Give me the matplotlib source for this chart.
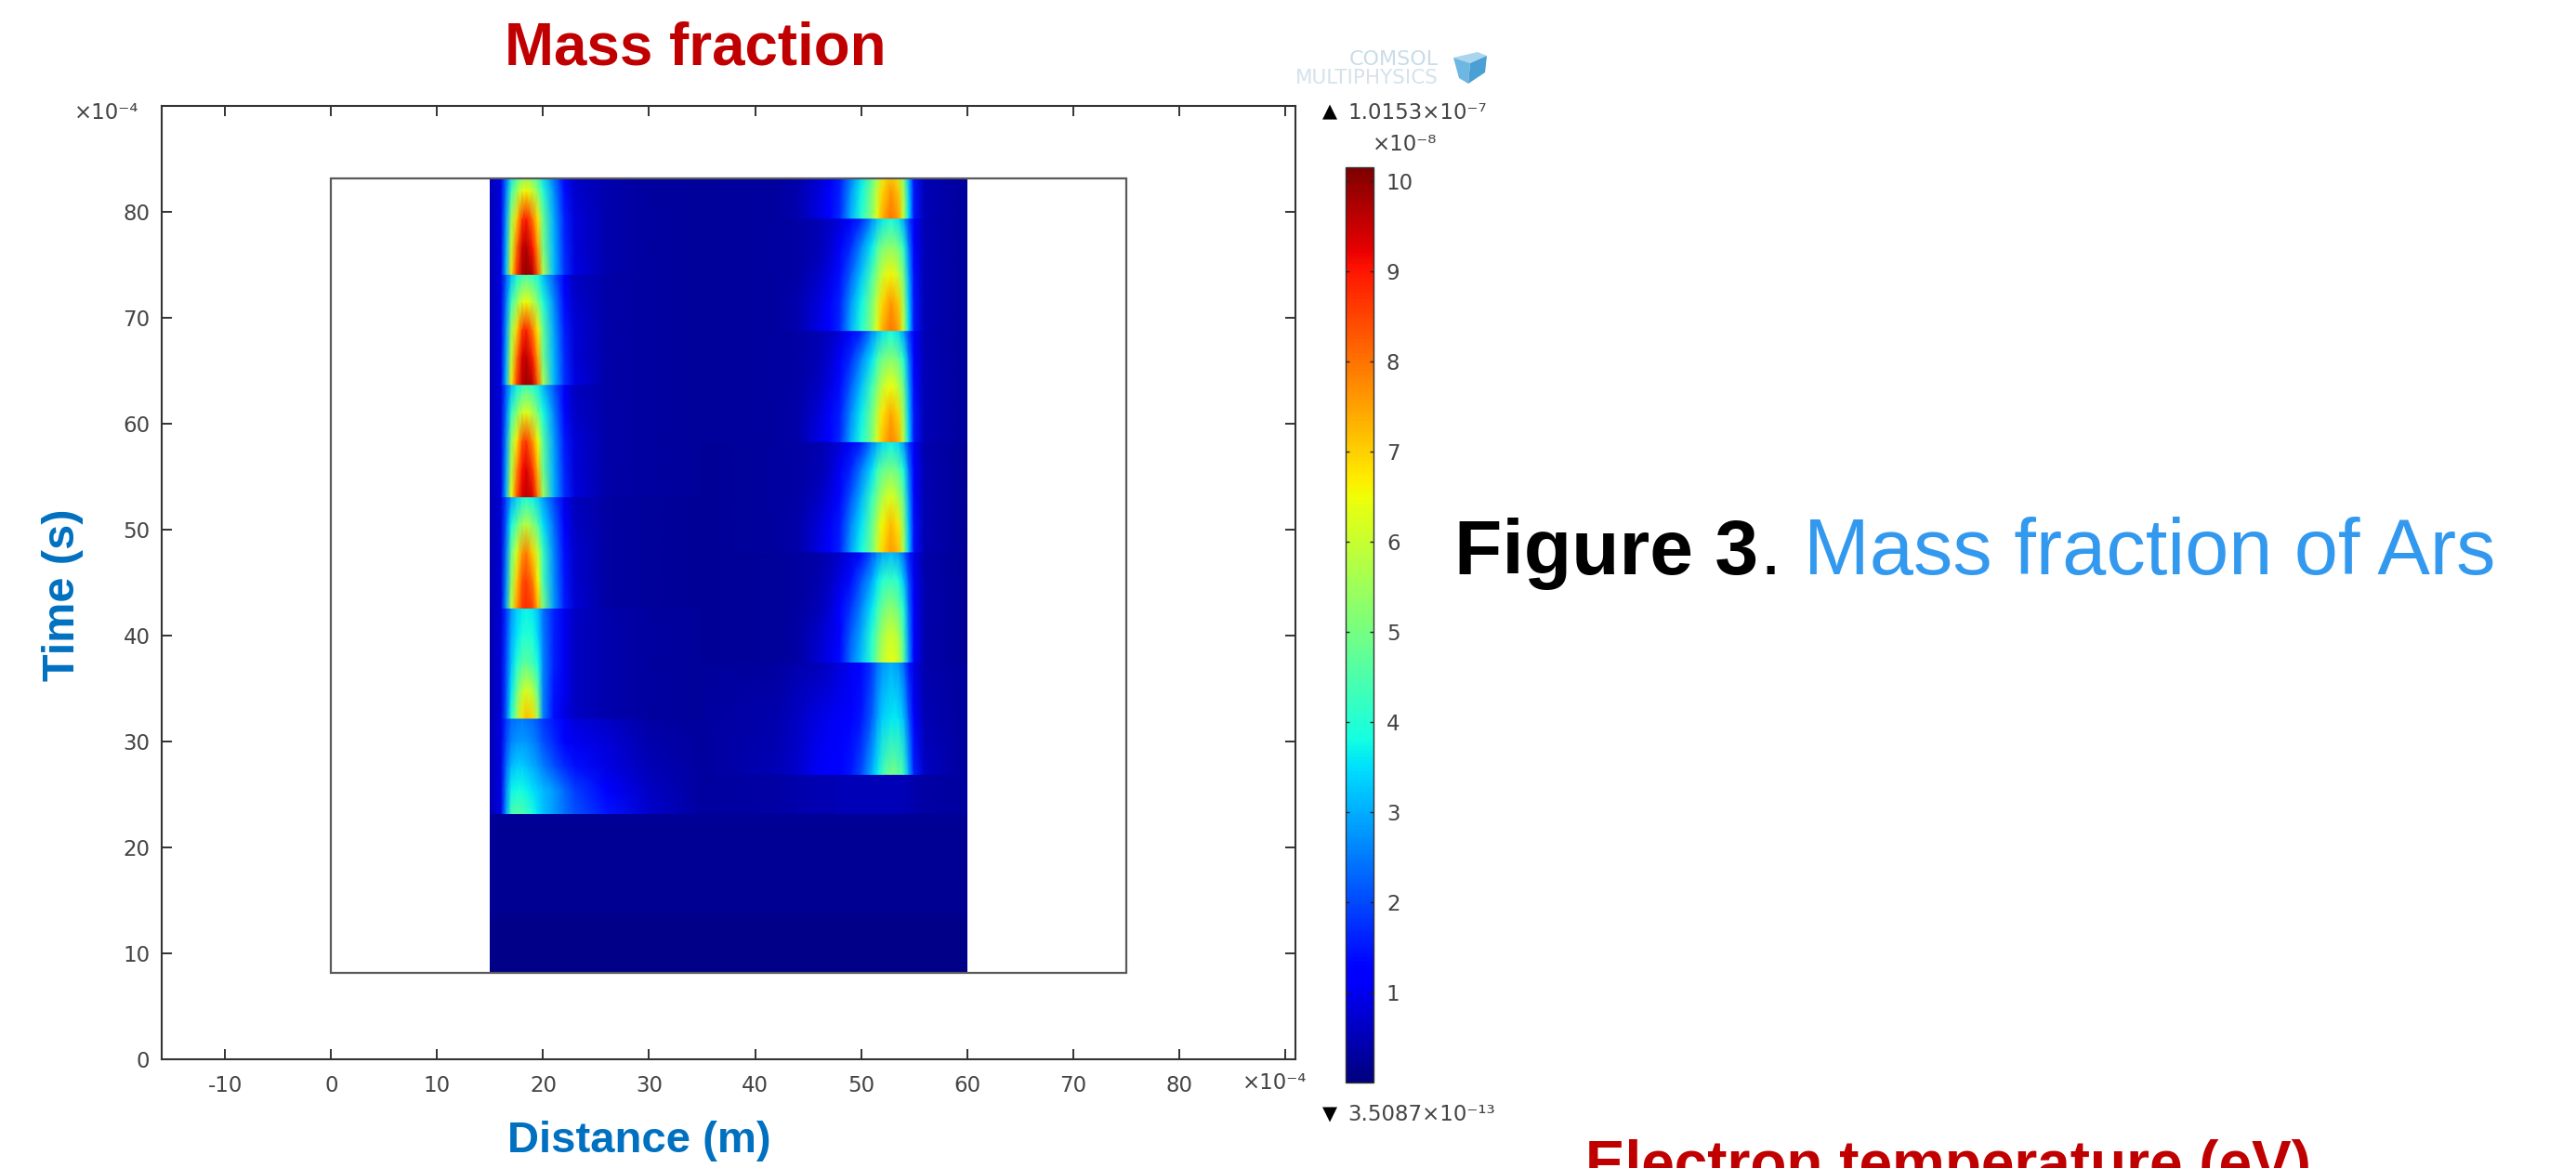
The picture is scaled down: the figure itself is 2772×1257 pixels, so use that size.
import numpy as np
import matplotlib
matplotlib.use("Agg")
import matplotlib.pyplot as plt
from matplotlib.cm import ScalarMappable
from matplotlib.colors import Normalize
from matplotlib.patches import Polygon, Rectangle

W, H = 2772, 1257

# ticks and values (mass fraction in units of 1e-8)
x_ticks = [-10, 0, 10, 20, 30, 40, 50, 60, 70, 80, 90]
y_ticks = [0, 10, 20, 30, 40, 50, 60, 70, 80, 90]
cb_ticks = [1, 2, 3, 4, 5, 6, 7, 8, 9, 10]
val_min = 0.0
val_max = 10.15

domain_x = [0, 75]
domain_t = [8.2, 83.2]
field_x = [15, 60]

# left stream
left_x = [15, 16, 16.5, 17, 17.5, 18, 18.4, 19, 19.5, 20, 21, 22, 23, 26, 30, 35]
left_breaks = [42.6, 53.1, 63.7, 74.1]
left_ends = [53.1, 63.7, 74.1, 84.6]
left_peaks = [0.88, 0.96, 0.99, 1.0]
hot_frac = [0, 0.25, 0.5, 0.75, 1]
left_hot = [
    [0.5, 0.9, 3.2, 6.8, 8.6, 9.7, 10.0, 9.7, 8.3, 5.8, 3.2, 1.8, 0.9, 0.4, 0.3, 0.25],
    [0.5, 0.9, 3.0, 6.0, 8.0, 9.4, 9.7, 9.0, 7.5, 5.0, 3.1, 1.7, 0.8, 0.4, 0.3, 0.25],
    [0.5, 0.9, 2.8, 5.5, 7.0, 8.6, 9.0, 8.0, 6.8, 4.8, 3.0, 1.6, 0.8, 0.4, 0.3, 0.25],
    [0.5, 0.9, 2.5, 4.3, 5.4, 6.3, 6.6, 6.0, 5.2, 4.0, 2.7, 1.4, 0.7, 0.4, 0.3, 0.25],
    [0.5, 0.9, 2.2, 3.2, 3.8, 4.2, 4.4, 4.2, 3.8, 3.2, 2.2, 1.1, 0.6, 0.4, 0.3, 0.25],
]
left_mid = [
    [0.4, 0.8, 2.2, 4.0, 5.5, 6.8, 7.2, 6.9, 5.5, 2.6, 1.4, 0.9, 0.6, 0.4, 0.3, 0.25],
    [0.4, 0.8, 2.1, 3.6, 4.8, 5.8, 6.2, 5.8, 4.7, 2.6, 1.5, 1.0, 0.6, 0.4, 0.3, 0.25],
    [0.4, 0.8, 2.0, 3.2, 4.0, 4.5, 4.7, 4.4, 3.8, 2.6, 1.6, 1.0, 0.6, 0.4, 0.3, 0.25],
    [0.4, 0.8, 1.9, 3.0, 3.5, 3.9, 4.0, 3.9, 3.4, 2.5, 1.6, 1.0, 0.6, 0.4, 0.3, 0.25],
    [0.4, 0.8, 1.8, 2.8, 3.3, 3.6, 3.7, 3.6, 3.2, 2.4, 1.6, 1.0, 0.6, 0.4, 0.3, 0.25],
]
left_low = [
    [0.5, 0.9, 2.8, 4.4, 4.6, 4.5, 4.3, 3.9, 3.5, 3.2, 2.8, 2.4, 2.1, 1.5, 0.7, 0.3],
    [0.5, 0.9, 2.6, 3.7, 3.8, 3.8, 3.7, 3.5, 3.3, 3.1, 2.8, 2.3, 1.9, 1.2, 0.6, 0.3],
    [0.5, 0.9, 2.3, 3.1, 3.3, 3.3, 3.2, 3.0, 2.8, 2.5, 2.1, 1.7, 1.4, 0.9, 0.5, 0.3],
    [0.5, 0.9, 2.0, 2.6, 2.8, 2.8, 2.8, 2.6, 2.4, 2.1, 1.7, 1.3, 1.0, 0.8, 0.4, 0.3],
    [0.5, 0.9, 1.8, 2.3, 2.4, 2.5, 2.4, 2.3, 2.1, 1.8, 1.5, 1.1, 0.8, 0.6, 0.35, 0.25],
]

# right stream
right_x = [35, 42, 44, 46, 47, 48, 49, 50, 51, 51.5, 52, 52.8, 53.5, 54, 54.5, 55, 56, 60]
right_breaks = [37.5, 47.9, 58.3, 68.8, 79.4]
right_ends = [47.9, 58.3, 68.8, 79.4, 89.9]
right_peaks = [0.8, 0.95, 0.98, 1.0, 1.0]
right_hot = [
    [0.25, 0.3, 0.4, 0.9, 1.2, 1.7, 3.0, 4.0, 5.2, 6.3, 7.3, 8.0, 7.6, 6.0, 3.5, 1.5, 0.5, 0.25],
    [0.25, 0.3, 0.4, 0.8, 1.1, 1.6, 2.7, 3.7, 5.0, 5.9, 6.9, 7.6, 7.1, 5.6, 3.3, 1.5, 0.5, 0.25],
    [0.25, 0.3, 0.35, 0.6, 0.9, 1.4, 2.2, 3.2, 4.4, 5.2, 6.0, 6.6, 6.0, 5.0, 3.0, 1.4, 0.5, 0.25],
    [0.25, 0.3, 0.35, 0.5, 0.7, 1.1, 1.7, 2.6, 3.6, 4.4, 5.0, 5.3, 5.0, 4.1, 2.6, 1.3, 0.5, 0.25],
    [0.25, 0.3, 0.35, 0.45, 0.6, 0.8, 1.1, 1.6, 2.6, 3.1, 3.6, 3.9, 3.6, 2.9, 1.9, 1.1, 0.45, 0.25],
]
low_frac = [0, 0.5, 1]
right_low = [
    [0.3, 0.5, 0.7, 1.1, 1.2, 1.3, 1.5, 2.0, 3.0, 3.6, 4.3, 5.0, 4.8, 4.4, 3.0, 1.6, 0.6, 0.25],
    [0.3, 0.4, 0.6, 0.9, 1.0, 1.1, 1.2, 1.5, 2.2, 2.8, 3.3, 3.6, 3.6, 3.2, 2.2, 1.2, 0.5, 0.25],
    [0.25, 0.3, 0.4, 0.5, 0.6, 0.8, 1.0, 1.3, 1.8, 2.3, 2.7, 3.0, 2.8, 2.3, 1.5, 0.9, 0.4, 0.25],
]
right_gap = [
    [0.3, 0.35, 0.4, 0.45, 0.45, 0.5, 0.5, 0.5, 0.5, 0.5, 0.5, 0.5, 0.5, 0.5, 0.45, 0.4, 0.35, 0.3],
    [0.3, 0.35, 0.4, 0.45, 0.45, 0.5, 0.5, 0.5, 0.5, 0.5, 0.5, 0.5, 0.5, 0.5, 0.45, 0.4, 0.35, 0.3],
]

# before the first pulse
base_t = [8.2, 13, 14, 23.2]
base_x = [15, 60]
base_vals = [[0.08, 0.08], [0.08, 0.08], [0.16, 0.16], [0.2, 0.2]]


def px(x, y):
    return x / W, 1 - y / H


fig = plt.figure(figsize=(W / 100, H / 100), dpi=100, facecolor="white")
ax = fig.add_axes([174 / W, 1 - 1140 / H, 1220 / W, 1026 / H])
ax.set_xlim(-16, 91)
ax.set_ylim(0, 90)

norm = Normalize(val_min, val_max)
clip = Rectangle((field_x[0], domain_t[0]), field_x[1] - field_x[0], domain_t[1] - domain_t[0],
                 transform=ax.transData)


def draw_block(xs, t0, t1, fracs, table, scale=1.0):
    ts = [t0 + f * (t1 - t0) for f in fracs]
    X, Y = np.meshgrid(xs, ts)
    m = ax.pcolormesh(X, Y, np.array(table) * scale, shading="gouraud", cmap="jet", norm=norm, zorder=2)
    m.set_clip_path(clip)


# dark background under the field
ax.add_patch(Rectangle((field_x[0], domain_t[0]), field_x[1] - field_x[0], domain_t[1] - domain_t[0],
                       facecolor="#000098", edgecolor="none", zorder=1))
draw_block(base_x, base_t[0], base_t[-1], [(t - base_t[0]) / (base_t[-1] - base_t[0]) for t in base_t], base_vals)

# left stream
draw_block(left_x, 23.2, 32.2, hot_frac, left_low)
draw_block(left_x, 32.2, 42.6, hot_frac, left_mid)
for t0, t1, p in zip(left_breaks, left_ends, left_peaks):
    draw_block(left_x, t0, t1, hot_frac, left_hot, p)

# right stream
draw_block(right_x, 23.2, 26.9, [0, 1], right_gap)
draw_block(right_x, 26.9, 37.5, low_frac, right_low)
for t0, t1, p in zip(right_breaks, right_ends, right_peaks):
    draw_block(right_x, t0, t1, hot_frac, right_hot, p)

# domain outline
ax.add_patch(Rectangle((domain_x[0], domain_t[0]), domain_x[1] - domain_x[0], domain_t[1] - domain_t[0],
                       fill=False, edgecolor="#5a5a5a", linewidth=1.6, zorder=3))

for s in ax.spines.values():
    s.set_linewidth(1.5)
    s.set_color("#333333")
ax.set_xticks(x_ticks)
ax.set_yticks(y_ticks)
ax.set_xticklabels([str(v) for v in x_ticks[:-1]] + [""])
ax.set_yticklabels([str(v) for v in y_ticks[:-1]] + [""])
ax.tick_params(direction="in", length=8, width=1.4, color="#333333", top=True, right=True,
               labelsize=16.5, labelcolor="#444444", pad=9)
ax.tick_params(axis="x", pad=12)

tick_font = {"fontsize": 16.5, "color": "#444444", "family": "DejaVu Sans", "va": "center"}
fig.text(*px(115, 122), "×10⁻⁴", ha="center", **tick_font)
fig.text(*px(1372, 1166), "×10⁻⁴", ha="center", **tick_font)

# colour bar
cax = fig.add_axes([1448 / W, 1 - 1165 / H, 30 / W, 985 / H])
cb = fig.colorbar(ScalarMappable(norm=norm, cmap="jet"), cax=cax, ticks=cb_ticks)
cb.outline.set_linewidth(1)
cb.outline.set_edgecolor("#333333")
cax.tick_params(direction="in", length=3, width=1, color="#222222", left=True, right=True,
                labelsize=16.5, labelcolor="#444444", pad=10)

fig.text(*px(1431, 120), "▲", ha="center", va="center", fontsize=15, color="black", family="DejaVu Sans")
fig.text(*px(1450, 122), "1.0153×10⁻⁷", ha="left", **tick_font)
fig.text(*px(1512, 156), "×10⁻⁸", ha="center", **tick_font)
fig.text(*px(1431, 1199), "▼", ha="center", va="center", fontsize=15, color="black", family="DejaVu Sans")
fig.text(*px(1450, 1199), "3.5087×10⁻¹³", ha="left", **tick_font)

# logo
fig.text(*px(1548, 64), "COMSOL", ha="right", va="center", fontsize=16, color="#c9dce8", family="DejaVu Sans")
fig.text(*px(1548, 84), "MULTIPHYSICS", ha="right", va="center", fontsize=15.5, color="#d5e2ea", family="DejaVu Sans")
cube_faces = [
    ([(1564, 62), (1590, 56), (1600, 60), (1582, 68)], "#a9d6ee"),
    ([(1564, 62), (1582, 68), (1580, 90), (1570, 84)], "#6db7e2"),
    ([(1582, 68), (1600, 60), (1598, 78), (1580, 90)], "#4a9fd4"),
]
for pts, col in cube_faces:
    fig.add_artist(Polygon([px(a, b) for a, b in pts], closed=True, facecolor=col, edgecolor="none",
                           transform=fig.transFigure))

# headings
head = ["Liberation Sans", "DejaVu Sans"]
fig.text(*px(748, 53), "Mass fraction", ha="center", va="center", fontsize=45.8, fontweight="bold",
         color="#C00000", family=head)
fig.text(*px(688, 1228), "Distance (m)", ha="center", va="center", fontsize=34, fontweight="bold",
         color="#0070C0", family=head)
fig.text(*px(68, 640), "Time (s)", ha="center", va="center", rotation=90, fontsize=35, fontweight="bold",
         color="#0070C0", family=head)
fig.text(*px(1565, 618), "Figure 3", ha="left", va="baseline", fontsize=60.5, fontweight="bold",
         color="black", family=head)
fig.text(*px(1893, 618), ".", ha="left", va="baseline", fontsize=60.5, color="black", family=head)
fig.text(*px(1941, 618), "Mass fraction of Ars", ha="left", va="baseline", fontsize=61,
         color="#3399EE", family=head)
fig.text(*px(2096, 1273), "Electron temperature (eV)", ha="center", va="baseline", fontsize=46,
         fontweight="bold", color="#C00000", family=head)

fig.savefig("out.png", dpi=100)
